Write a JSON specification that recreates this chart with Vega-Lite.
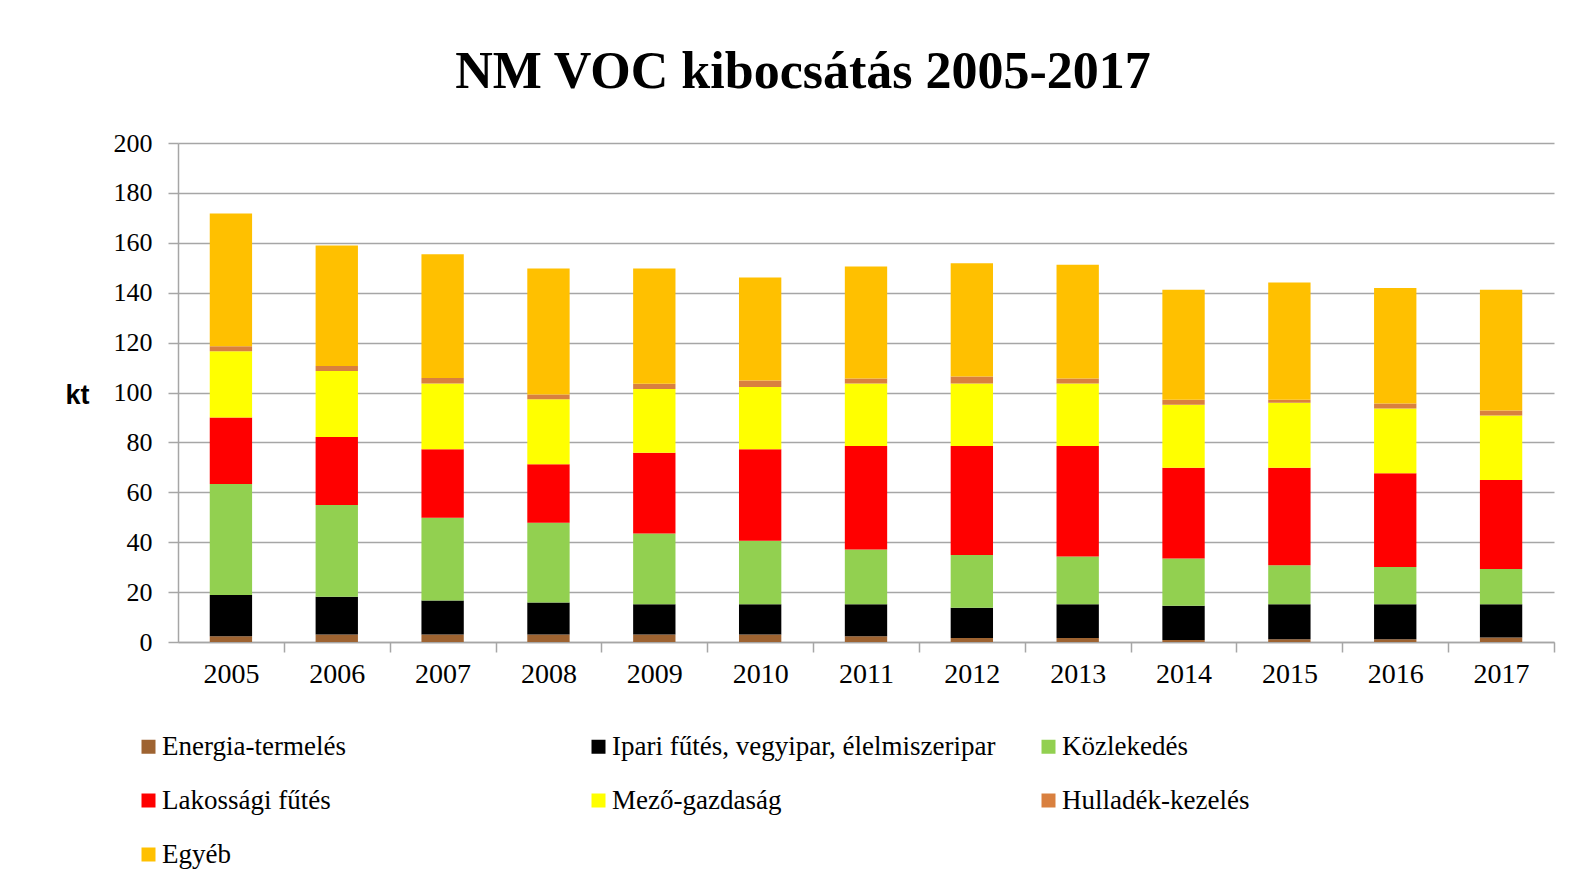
{
  "$schema": "https://vega.github.io/schema/vega-lite/v6.json",
  "width": 1376,
  "height": 499,
  "autosize": {"type": "none"},
  "padding": {"left": 178, "top": 143, "right": 19, "bottom": 249},
  "background": "white",
  "title": {
    "text": "NM VOC kibocsátás  2005-2017",
    "font": "Liberation Serif",
    "fontSize": 52,
    "fontWeight": "bold",
    "color": "#000000",
    "anchor": "middle",
    "dx": -63,
    "offset": 31
  },
  "data": {
    "values": [
      {"year": "2005", "rank": 1, "sector": "Energia-termelés", "kt": 2.3},
      {"year": "2005", "rank": 2, "sector": "Ipari fűtés, vegyipar, élelmiszeripar", "kt": 16.5},
      {"year": "2005", "rank": 3, "sector": "Közlekedés", "kt": 44.5},
      {"year": "2005", "rank": 4, "sector": "Lakossági fűtés", "kt": 26.7},
      {"year": "2005", "rank": 5, "sector": "Mező-gazdaság", "kt": 26.5},
      {"year": "2005", "rank": 6, "sector": "Hulladék-kezelés", "kt": 2.0},
      {"year": "2005", "rank": 7, "sector": "Egyéb", "kt": 53.2},
      {"year": "2006", "rank": 1, "sector": "Energia-termelés", "kt": 3.0},
      {"year": "2006", "rank": 2, "sector": "Ipari fűtés, vegyipar, élelmiszeripar", "kt": 15.1},
      {"year": "2006", "rank": 3, "sector": "Közlekedés", "kt": 36.8},
      {"year": "2006", "rank": 4, "sector": "Lakossági fűtés", "kt": 27.3},
      {"year": "2006", "rank": 5, "sector": "Mező-gazdaság", "kt": 26.4},
      {"year": "2006", "rank": 6, "sector": "Hulladék-kezelés", "kt": 2.0},
      {"year": "2006", "rank": 7, "sector": "Egyéb", "kt": 48.3},
      {"year": "2007", "rank": 1, "sector": "Energia-termelés", "kt": 3.0},
      {"year": "2007", "rank": 2, "sector": "Ipari fűtés, vegyipar, élelmiszeripar", "kt": 13.6},
      {"year": "2007", "rank": 3, "sector": "Közlekedés", "kt": 33.2},
      {"year": "2007", "rank": 4, "sector": "Lakossági fűtés", "kt": 27.5},
      {"year": "2007", "rank": 5, "sector": "Mező-gazdaság", "kt": 26.3},
      {"year": "2007", "rank": 6, "sector": "Hulladék-kezelés", "kt": 2.2},
      {"year": "2007", "rank": 7, "sector": "Egyéb", "kt": 49.6},
      {"year": "2008", "rank": 1, "sector": "Energia-termelés", "kt": 3.0},
      {"year": "2008", "rank": 2, "sector": "Ipari fűtés, vegyipar, élelmiszeripar", "kt": 12.8},
      {"year": "2008", "rank": 3, "sector": "Közlekedés", "kt": 32.0},
      {"year": "2008", "rank": 4, "sector": "Lakossági fűtés", "kt": 23.4},
      {"year": "2008", "rank": 5, "sector": "Mező-gazdaság", "kt": 26.1},
      {"year": "2008", "rank": 6, "sector": "Hulladék-kezelés", "kt": 1.9},
      {"year": "2008", "rank": 7, "sector": "Egyéb", "kt": 50.5},
      {"year": "2009", "rank": 1, "sector": "Energia-termelés", "kt": 3.0},
      {"year": "2009", "rank": 2, "sector": "Ipari fűtés, vegyipar, élelmiszeripar", "kt": 12.1},
      {"year": "2009", "rank": 3, "sector": "Közlekedés", "kt": 28.4},
      {"year": "2009", "rank": 4, "sector": "Lakossági fűtés", "kt": 32.4},
      {"year": "2009", "rank": 5, "sector": "Mező-gazdaság", "kt": 25.5},
      {"year": "2009", "rank": 6, "sector": "Hulladék-kezelés", "kt": 2.1},
      {"year": "2009", "rank": 7, "sector": "Egyéb", "kt": 46.2},
      {"year": "2010", "rank": 1, "sector": "Energia-termelés", "kt": 3.0},
      {"year": "2010", "rank": 2, "sector": "Ipari fűtés, vegyipar, élelmiszeripar", "kt": 12.1},
      {"year": "2010", "rank": 3, "sector": "Közlekedés", "kt": 25.5},
      {"year": "2010", "rank": 4, "sector": "Lakossági fűtés", "kt": 36.7},
      {"year": "2010", "rank": 5, "sector": "Mező-gazdaság", "kt": 24.9},
      {"year": "2010", "rank": 6, "sector": "Hulladék-kezelés", "kt": 2.6},
      {"year": "2010", "rank": 7, "sector": "Egyéb", "kt": 41.3},
      {"year": "2011", "rank": 1, "sector": "Energia-termelés", "kt": 2.3},
      {"year": "2011", "rank": 2, "sector": "Ipari fűtés, vegyipar, élelmiszeripar", "kt": 12.8},
      {"year": "2011", "rank": 3, "sector": "Közlekedés", "kt": 22.0},
      {"year": "2011", "rank": 4, "sector": "Lakossági fűtés", "kt": 41.5},
      {"year": "2011", "rank": 5, "sector": "Mező-gazdaság", "kt": 25.0},
      {"year": "2011", "rank": 6, "sector": "Hulladék-kezelés", "kt": 2.0},
      {"year": "2011", "rank": 7, "sector": "Egyéb", "kt": 44.9},
      {"year": "2012", "rank": 1, "sector": "Energia-termelés", "kt": 1.6},
      {"year": "2012", "rank": 2, "sector": "Ipari fűtés, vegyipar, élelmiszeripar", "kt": 12.1},
      {"year": "2012", "rank": 3, "sector": "Közlekedés", "kt": 21.2},
      {"year": "2012", "rank": 4, "sector": "Lakossági fűtés", "kt": 43.7},
      {"year": "2012", "rank": 5, "sector": "Mező-gazdaság", "kt": 25.0},
      {"year": "2012", "rank": 6, "sector": "Hulladék-kezelés", "kt": 2.8},
      {"year": "2012", "rank": 7, "sector": "Egyéb", "kt": 45.4},
      {"year": "2013", "rank": 1, "sector": "Energia-termelés", "kt": 1.6},
      {"year": "2013", "rank": 2, "sector": "Ipari fűtés, vegyipar, élelmiszeripar", "kt": 13.5},
      {"year": "2013", "rank": 3, "sector": "Közlekedés", "kt": 19.2},
      {"year": "2013", "rank": 4, "sector": "Lakossági fűtés", "kt": 44.3},
      {"year": "2013", "rank": 5, "sector": "Mező-gazdaság", "kt": 25.0},
      {"year": "2013", "rank": 6, "sector": "Hulladék-kezelés", "kt": 2.0},
      {"year": "2013", "rank": 7, "sector": "Egyéb", "kt": 45.6},
      {"year": "2014", "rank": 1, "sector": "Energia-termelés", "kt": 0.8},
      {"year": "2014", "rank": 2, "sector": "Ipari fűtés, vegyipar, élelmiszeripar", "kt": 13.7},
      {"year": "2014", "rank": 3, "sector": "Közlekedés", "kt": 19.0},
      {"year": "2014", "rank": 4, "sector": "Lakossági fűtés", "kt": 36.3},
      {"year": "2014", "rank": 5, "sector": "Mező-gazdaság", "kt": 25.3},
      {"year": "2014", "rank": 6, "sector": "Hulladék-kezelés", "kt": 2.0},
      {"year": "2014", "rank": 7, "sector": "Egyéb", "kt": 44.1},
      {"year": "2015", "rank": 1, "sector": "Energia-termelés", "kt": 1.1},
      {"year": "2015", "rank": 2, "sector": "Ipari fűtés, vegyipar, élelmiszeripar", "kt": 14.0},
      {"year": "2015", "rank": 3, "sector": "Közlekedés", "kt": 15.7},
      {"year": "2015", "rank": 4, "sector": "Lakossági fűtés", "kt": 39.0},
      {"year": "2015", "rank": 5, "sector": "Mező-gazdaság", "kt": 26.1},
      {"year": "2015", "rank": 6, "sector": "Hulladék-kezelés", "kt": 1.2},
      {"year": "2015", "rank": 7, "sector": "Egyéb", "kt": 47.0},
      {"year": "2016", "rank": 1, "sector": "Energia-termelés", "kt": 1.1},
      {"year": "2016", "rank": 2, "sector": "Ipari fűtés, vegyipar, élelmiszeripar", "kt": 14.0},
      {"year": "2016", "rank": 3, "sector": "Közlekedés", "kt": 15.0},
      {"year": "2016", "rank": 4, "sector": "Lakossági fűtés", "kt": 37.5},
      {"year": "2016", "rank": 5, "sector": "Mező-gazdaság", "kt": 26.0},
      {"year": "2016", "rank": 6, "sector": "Hulladék-kezelés", "kt": 2.0},
      {"year": "2016", "rank": 7, "sector": "Egyéb", "kt": 46.3},
      {"year": "2017", "rank": 1, "sector": "Energia-termelés", "kt": 1.8},
      {"year": "2017", "rank": 2, "sector": "Ipari fűtés, vegyipar, élelmiszeripar", "kt": 13.3},
      {"year": "2017", "rank": 3, "sector": "Közlekedés", "kt": 14.2},
      {"year": "2017", "rank": 4, "sector": "Lakossági fűtés", "kt": 35.6},
      {"year": "2017", "rank": 5, "sector": "Mező-gazdaság", "kt": 25.9},
      {"year": "2017", "rank": 6, "sector": "Hulladék-kezelés", "kt": 2.0},
      {"year": "2017", "rank": 7, "sector": "Egyéb", "kt": 48.4}
    ]
  },
  "mark": {"type": "bar"},
  "encoding": {
    "x": {
      "field": "year",
      "type": "nominal",
      "scale": {"paddingInner": 0.6, "paddingOuter": 0.3},
      "axis": {
        "title": null,
        "labelAngle": 0,
        "labelFont": "Liberation Serif",
        "labelFontSize": 28,
        "labelColor": "#000000",
        "labelPadding": 8,
        "tickSize": 10,
        "tickColor": "#a6a6a6",
        "tickWidth": 1.5,
        "tickOffset": 52.9,
        "labelOffset": -52.9,
        "domainColor": "#a6a6a6",
        "domainWidth": 1.5,
        "grid": false
      }
    },
    "y": {
      "field": "kt",
      "type": "quantitative",
      "aggregate": "sum",
      "stack": "zero",
      "scale": {"domain": [0, 200], "nice": false},
      "axis": {
        "title": "kt",
        "titleFont": "Liberation Sans",
        "titleFontWeight": "bold",
        "titleFontSize": 27,
        "titleColor": "#000000",
        "titleAngle": 0,
        "titleAlign": "center",
        "titleBaseline": "middle",
        "titleX": -101,
        "titleY": 252,
        "values": [0, 20, 40, 60, 80, 100, 120, 140, 160, 180, 200],
        "labelFont": "Liberation Serif",
        "labelFontSize": 26,
        "labelColor": "#000000",
        "labelPadding": 16,
        "tickSize": 10,
        "tickColor": "#a6a6a6",
        "tickWidth": 1.5,
        "domainColor": "#a6a6a6",
        "domainWidth": 1.5,
        "gridColor": "#a6a6a6",
        "gridWidth": 1.5
      }
    },
    "order": {"field": "rank", "type": "quantitative", "sort": "ascending"},
    "color": {
      "field": "sector",
      "type": "nominal",
      "sort": ["Energia-termelés", "Ipari fűtés, vegyipar, élelmiszeripar", "Közlekedés", "Lakossági fűtés", "Mező-gazdaság", "Hulladék-kezelés", "Egyéb"],
      "scale": {
        "domain": ["Energia-termelés", "Ipari fűtés, vegyipar, élelmiszeripar", "Közlekedés", "Lakossági fűtés", "Mező-gazdaság", "Hulladék-kezelés", "Egyéb"],
        "range": ["#9e6331", "#000000", "#92d050", "#ff0000", "#ffff00", "#d9803f", "#ffc000"]
      },
      "legend": {
        "title": null,
        "orient": "none",
        "direction": "horizontal",
        "legendX": -43,
        "legendY": 590,
        "columns": 3,
        "gridAlign": "all",
        "columnPadding": 39,
        "rowPadding": 26,
        "symbolType": "square",
        "symbolSize": 196,
        "symbolStrokeWidth": 0,
        "symbolOffset": 0,
        "labelOffset": 0,
        "labelFont": "Liberation Serif",
        "labelFontSize": 27,
        "labelColor": "#000000",
        "labelLimit": 600
      }
    }
  },
  "config": {
    "view": {"stroke": null}
  }
}
